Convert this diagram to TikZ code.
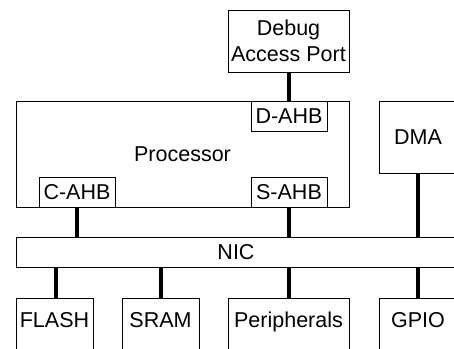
\documentclass[tikz,border=0pt]{standalone}
\usepackage{fontspec}
\setmainfont{Liberation Sans}
\begin{document}
\begin{tikzpicture}[
    x=1pt, y=-1pt,
    font=\fontsize{21.5}{26}\selectfont,
    block/.style={draw, line width=0.8pt, inner sep=0pt, align=center},
    port/.style={block, fill=white, minimum width=76pt, minimum height=30pt},
    unit/.style={block, minimum height=52pt, text height=1.38ex, text depth=0pt},
    bus/.style={line width=4pt}
  ]
    \useasboundingbox (0,0) rectangle (454,348);
    \clip (0,0) rectangle (454,348);
    % upper row
    \node[block, minimum width=121pt, minimum height=62pt] (dap) at (288.5,41) {Debug\\Access Port};
    \node[block, minimum width=333pt, minimum height=106pt] (cpu) at (182.5,154) {Processor};
    \node[port] (dahb) at (289,116) {D-AHB};
    \node[port] (cahb) at (77,192) {C-AHB};
    \node[port] (sahb) at (289,192) {S-AHB};
    \node[block, minimum width=78pt, minimum height=72pt] (dma) at (418,137) {DMA};
    % interconnect
    \node[block, minimum width=440pt, minimum height=30pt] (nic) at (236,252) {NIC};
    % lower row
    \node[unit, minimum width=77pt] (flash) at (54.5,324) {FLASH};
    \node[unit, minimum width=77pt] (sram) at (160.5,324) {SRAM};
    \node[unit, minimum width=121pt] (periph) at (288.5,324) {Peripherals};
    \node[unit, minimum width=78pt] (gpio) at (418,324) {GPIO};
    % buses
    \draw[bus] (dahb.north) -- (dahb.north |- dap.south);
    \draw[bus] (cahb.south) -- (cahb.south |- nic.north);
    \draw[bus] (sahb.south) -- (sahb.south |- nic.north);
    \draw[bus] (dma.south) -- (dma.south |- nic.north);
    \draw[bus] (nic.south -| 56,0) -- (flash.north -| 56,0);
    \draw[bus] (nic.south -| sram.north) -- (sram.north);
    \draw[bus] (nic.south -| sahb.south) -- (periph.north -| sahb.south);
    \draw[bus] (nic.south -| gpio.north) -- (gpio.north);
\end{tikzpicture}
\end{document}
